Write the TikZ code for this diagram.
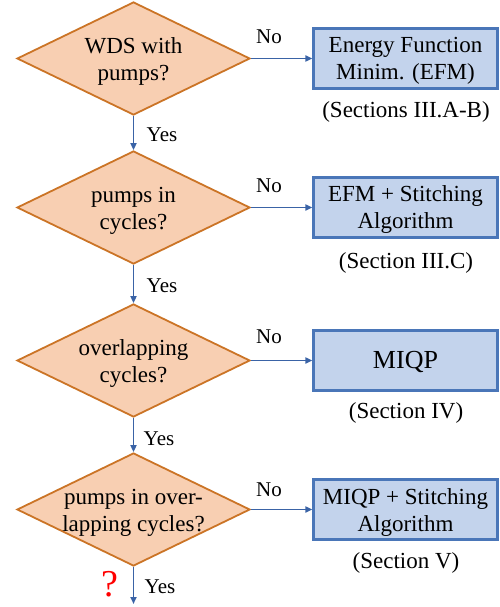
\documentclass[tikz,border=0pt]{standalone}
\usepackage{fontspec}
\setmainfont{Liberation Serif}
\usetikzlibrary{shapes.geometric,arrows.meta}
\definecolor{dfill}{HTML}{F8CFB2}
\definecolor{dline}{HTML}{CB7426}
\definecolor{bfill}{HTML}{C3D3EC}
\definecolor{bline}{HTML}{4A76B8}
\definecolor{aline}{HTML}{3A63A6}
\tikzset{
  dec/.style={diamond, draw=dline, fill=dfill, line width=1.8pt, minimum width=233pt, minimum height=113pt, inner sep=0pt, aspect=2.06},
  dtext/.style={align=center, font=\fontsize{23}{27}\selectfont, yshift=-3pt},
  res/.style={rectangle, draw=bline, fill=bfill, line width=2.2pt, minimum width=184pt, minimum height=60pt, inner sep=0pt},
  rtext/.style={align=center, font=\fontsize{23}{27}\selectfont, yshift=-2.5pt},
  sec/.style={font=\fontsize{23}{27}\selectfont},
  lab/.style={font=\fontsize{21}{25}\selectfont},
  flow/.style={draw=aline, line width=1.8pt, -{Triangle[length=7pt,width=6pt]}},
}
\begin{document}
\begin{tikzpicture}[x=1pt,y=-1pt]
\useasboundingbox (0,0) rectangle (500,607);
% diamonds
\node[dec] (d1) at (133.5,58.5) {};
\node[dtext] (t1) at (d1) {WDS with\\pumps?};
\node[dec] (d2) at (133.5,207.5) {};
\node[dtext] (t2) at (d2) {pumps in\\cycles?};
\node[dec] (d3) at (133.5,360.5) {};
\node[dtext] (t3) at (d3) {overlapping\\cycles?};
\node[dec] (d4) at (133.5,509.5) {};
\node[dtext] (t4) at (d4) {pumps in over-\\lapping cycles?};
% boxes
\node[res] (b1) at (405.5,58.5) {};
\node[rtext] (r1) at (b1) {Energy Function\\Minim. (EFM)};
\node[res] (b2) at (405.5,207.5) {};
\node[rtext] (r2) at (b2) {EFM + Stitching\\Algorithm};
\node[res] (b3) at (405.5,360.5) {};
\node[rtext, font=\fontsize{26}{30}\selectfont, yshift=1pt] (r3) at (b3) {MIQP};
\node[res] (b4) at (405.5,509.5) {};
\node[rtext] (r4) at (b4) {MIQP + Stitching\\Algorithm};
% section labels
\node[sec] (s1) at (406,112) {(Sections III.A-B)};
\node[sec] (s2) at (406,263) {(Section III.C)};
\node[sec] (s3) at (406,413) {(Section IV)};
\node[sec] (s4) at (406,563) {(Section V)};
% connectors
\draw[flow] (d1.east) -- (b1.west);
\draw[flow] (d2.east) -- (b2.west);
\draw[flow] (d3.east) -- (b3.west);
\draw[flow] (d4.east) -- (b4.west);
\draw[flow] (d1.south) -- (d2.north);
\draw[flow] (d2.south) -- (d3.north);
\draw[flow] (d3.south) -- (d4.north);
\coordinate (end) at (133.5,604);
\draw[flow] (d4.south) -- (end);
% No labels
\node[lab] (n1) at (269,37) {No};
\node[lab] (n2) at (269,186) {No};
\node[lab] (n3) at (269,337) {No};
\node[lab] (n4) at (269,490) {No};
% Yes labels
\node[lab] (y1) at (162,135) {Yes};
\node[lab] (y2) at (162,286) {Yes};
\node[lab] (y3) at (159,439) {Yes};
\node[lab] (y4) at (160,587) {Yes};
\node[text=red, font=\fontsize{38}{42}\selectfont, inner sep=0pt, anchor=base] (q) at (110,596) {?};
\end{tikzpicture}
\end{document}
